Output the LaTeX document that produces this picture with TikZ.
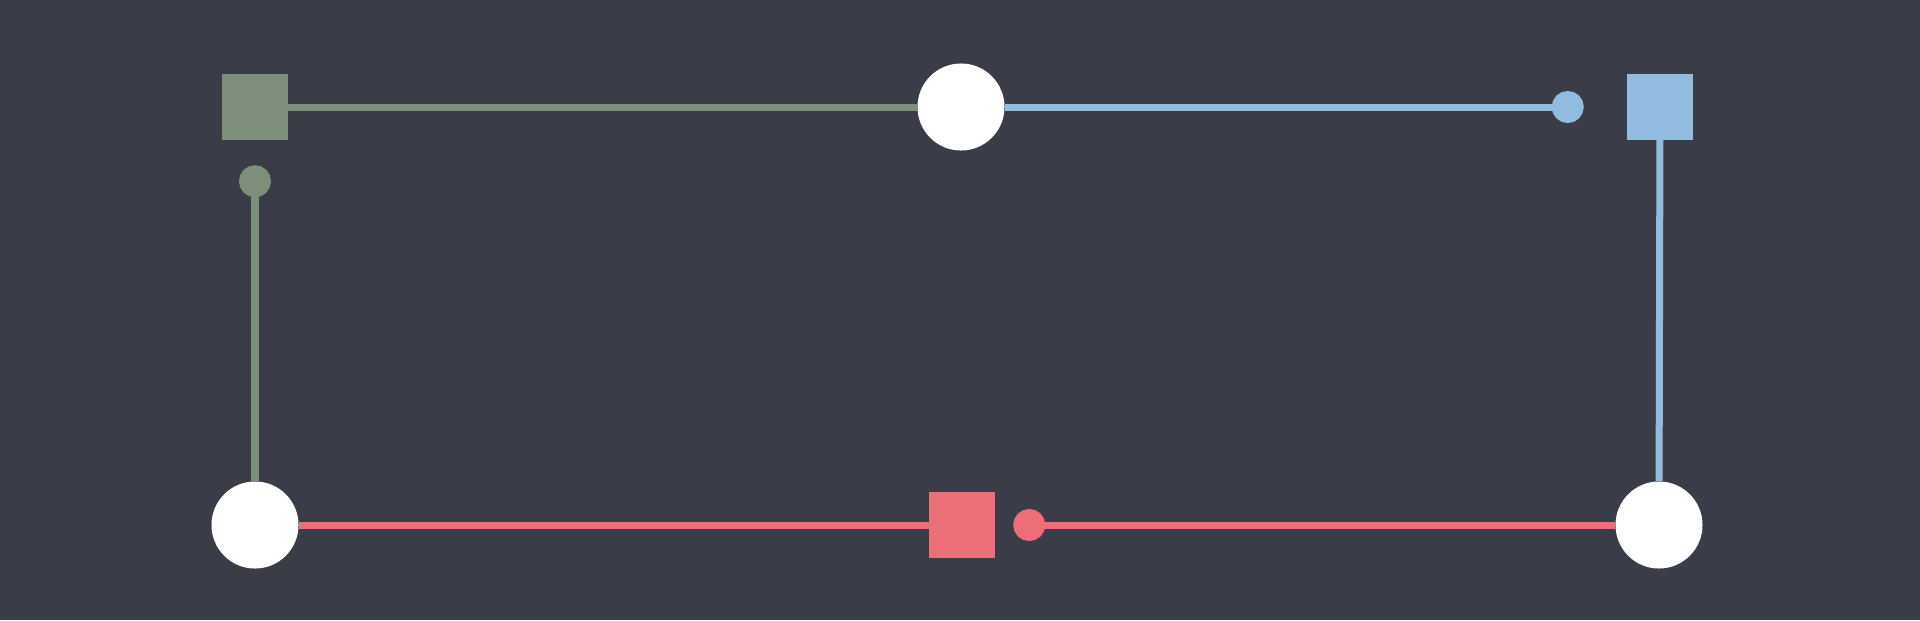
\documentclass[tikz,border=0pt]{standalone}
\usepackage{tikz}
\usetikzlibrary{arrows.meta, positioning}
\definecolor{bgdark}{HTML}{3A3D47}
\definecolor{sage}{HTML}{7D8F7B}
\definecolor{skyblue}{HTML}{92BBE0}
\definecolor{coral}{HTML}{EC6E78}

\begin{document}
\begin{tikzpicture}[
  x=0.01cm, y=0.01cm,
  hub/.style={circle, fill=white, minimum size=0.87cm, inner sep=0pt},
  port/.style={rectangle, minimum size=0.65cm, inner sep=0pt},
  link/.style={line width=0.07cm},
  feed/.style={line width=0.07cm, -{Circle[length=0.32cm]}}
]

% Background
\fill[bgdark] (0,0) rectangle (1920,620);
\useasboundingbox (0,0) rectangle (1920,620);

% Hubs
\node[hub] (top) at (961,513) {};
\node[hub] (left) at (255,95) {};
\node[hub] (right) at (1659,95) {};

% Ports
\node[port, fill=sage] (pg) at (255,513) {};
\node[port, fill=skyblue] (pb) at (1660,513) {};
\node[port, fill=coral] (pr) at (962,95) {};

% Port to hub
\draw[link, sage] (pg) -- (top);
\draw[link, skyblue] (pb) -- (right);
\draw[link, coral] (pr) -- (left);

% Hub to port
\draw[feed, skyblue, shorten >=0.43cm] (top) -- (pb);
\draw[feed, coral, shorten >=0.18cm] (right) -- (pr);
\draw[feed, sage, shorten >=0.25cm] (left) -- (pg);

\end{tikzpicture}
\end{document}
